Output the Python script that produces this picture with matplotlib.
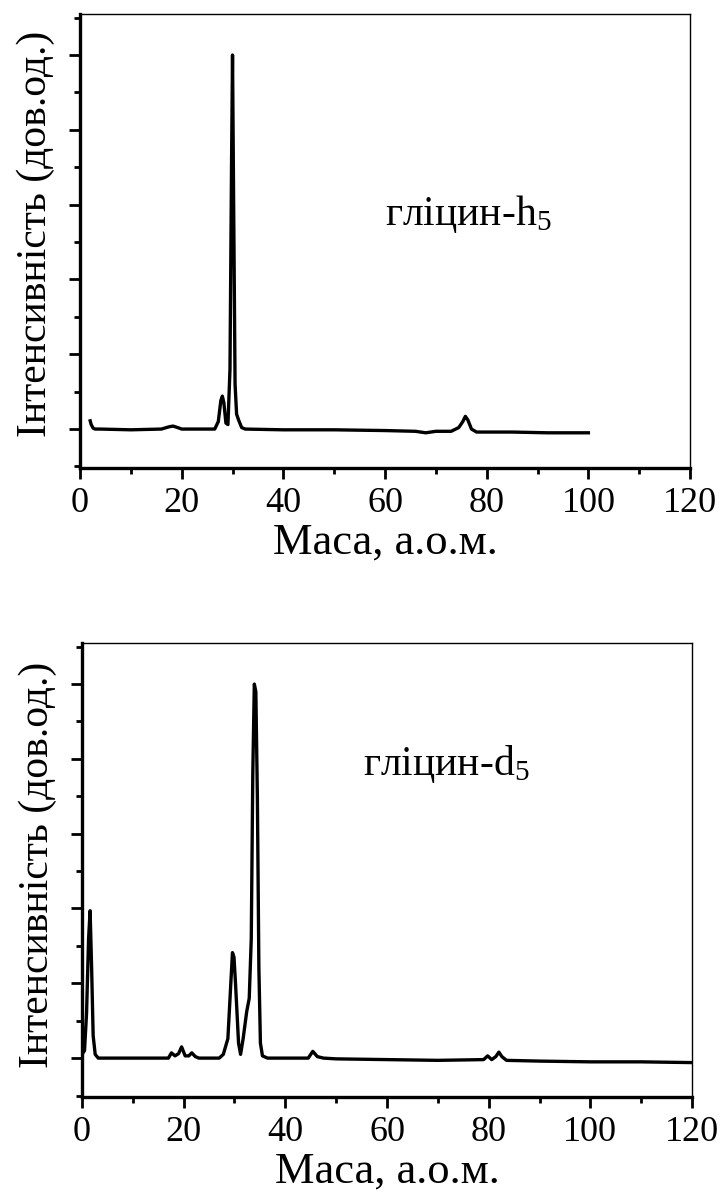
import matplotlib
matplotlib.use("Agg")
import matplotlib.pyplot as plt
from matplotlib.ticker import MultipleLocator

plt.rcParams['font.family'] = ['Liberation Serif', 'DejaVu Serif']
plt.rcParams['mathtext.fontset'] = 'custom'
plt.rcParams['mathtext.rm'] = 'Liberation Serif'
plt.rcParams['mathtext.it'] = 'Liberation Serif'
plt.rcParams['mathtext.bf'] = 'Liberation Serif'

# glycine-h5 mass spectrum (trace points)
mass_h = [2.0, 2.2, 2.6, 3.0, 4.0, 10.0, 16.0, 17.5, 18.3, 19.2, 20.0,
          26.5, 27.2, 27.7, 28.0, 28.3, 28.7, 29.1, 29.5, 29.8, 30.0,
          30.2, 30.5, 30.8, 31.2, 31.8, 32.5, 40.0, 50.0, 60.0, 66.0,
          68.0, 70.0, 73.0, 74.5, 75.3, 75.8, 76.3, 77.0, 78.0, 85.0,
          92.0, 100.0]
int_h = [0.11, 0.06, 0.01, 0.0, 0.0, -0.01, 0.0, 0.03, 0.04, 0.02, 0.0,
         0.0, 0.1, 0.38, 0.44, 0.35, 0.08, 0.06, 0.8, 3.5, 5.0,
         3.2, 0.6, 0.2, 0.12, 0.02, 0.0, -0.01, -0.01, -0.02, -0.03,
         -0.05, -0.03, -0.03, 0.02, 0.1, 0.17, 0.12, 0.0, -0.04, -0.04,
         -0.05, -0.05]

# glycine-d5 mass spectrum
mass_d = [0.0, 0.5, 0.9, 1.3, 1.6, 1.9, 2.2, 2.6, 3.2, 5.0, 10.0, 15.0,
          17.0, 17.6, 18.3, 19.0, 19.6, 20.3, 21.0, 21.6, 22.3, 23.0,
          27.0, 27.8, 28.7, 29.2, 29.6, 29.9, 30.2, 30.5, 30.8, 31.2,
          31.7, 32.4, 32.9, 33.3, 33.6, 33.9, 34.2, 34.5, 34.8, 35.1,
          35.5, 36.5, 40.0, 44.5, 45.4, 46.3, 47.5, 50.0, 60.0, 70.0,
          79.0, 79.8, 80.6, 81.4, 82.0, 82.6, 83.5, 90.0, 100.0, 110.0,
          120.0]
int_d = [0.05, 0.1, 0.6, 1.6, 1.97, 1.2, 0.3, 0.05, 0.0, 0.0, 0.0, 0.0,
         0.0, 0.07, 0.03, 0.06, 0.15, 0.03, 0.03, 0.07, 0.02, 0.0,
         0.0, 0.05, 0.26, 0.9, 1.41, 1.35, 1.0, 0.6, 0.2, 0.05,
         0.26, 0.62, 0.8, 1.6, 3.8, 5.0, 4.9, 3.5, 1.2, 0.2,
         0.03, 0.0, 0.0, 0.0, 0.09, 0.02, 0.0, -0.01, -0.02, -0.03,
         -0.02, 0.03, -0.02, 0.02, 0.08, 0.02, -0.03, -0.04, -0.05, -0.05,
         -0.06]

labels = ['гліцин-h$_5$', 'гліцин-d$_5$']
label_xy = [(60.0, 2.73), (55.2, 3.78)]
ylabel_y = [0.515, 0.511]

TICK_FS = 26
LABEL_FS = 30

fig = plt.figure(figsize=(7.28, 11.95), dpi=100)
ax1 = fig.add_axes([0.1099, 0.6084, 0.838, 0.380])
ax2 = fig.add_axes([0.1126, 0.0820, 0.838, 0.380])

for i, ax in enumerate([ax1, ax2]):
    x = [mass_h, mass_d][i]
    y = [int_h, int_d][i]
    ax.plot(x, y, color='black', lw=2.4, solid_joinstyle='round')
    ax.set_xlim(0, 120)
    ax.set_ylim(-0.52, 5.55)

    ax.xaxis.set_major_locator(MultipleLocator(20))
    ax.xaxis.set_minor_locator(MultipleLocator(10))
    ax.yaxis.set_major_locator(MultipleLocator(1))
    ax.yaxis.set_minor_locator(MultipleLocator(0.5))
    ax.tick_params(which='major', direction='out', length=8, width=2.0,
                   labelsize=TICK_FS, pad=6)
    ax.tick_params(which='minor', direction='out', length=4, width=2.0)
    ax.tick_params(axis='y', which='both', labelleft=False)

    for side in ('left', 'bottom'):
        ax.spines[side].set_linewidth(2.4)
    for side in ('top', 'right'):
        ax.spines[side].set_linewidth(1.0)

    ax.set_xlabel('Маса, а.о.м.', fontsize=LABEL_FS + 2, va='center')
    ax.xaxis.set_label_coords(0.5, -0.165)
    ax.set_ylabel('Інтенсивність (дов.од.)', fontsize=LABEL_FS, va='center')
    ax.yaxis.set_label_coords(-0.072, ylabel_y[i])

    tx, ty = label_xy[i]
    ax.text(tx, ty, labels[i], fontsize=LABEL_FS, ha='left', va='baseline')

fig.savefig('out.png', dpi=100)
